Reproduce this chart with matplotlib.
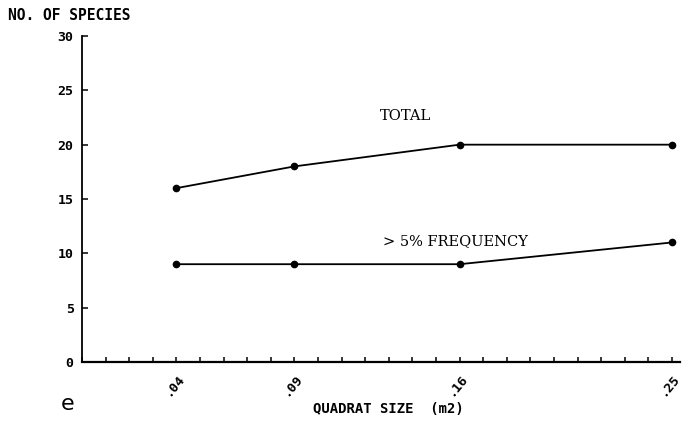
import matplotlib
matplotlib.use("Agg")
import matplotlib.pyplot as plt
from matplotlib.ticker import MultipleLocator, FixedLocator

quadrat_size = [0.04, 0.09, 0.16, 0.25]
size_labels = [".04", ".09", ".16", ".25"]
total_species = [16, 18, 20, 20]
frequent_species = [9, 9, 9, 11]

MONO = "DejaVu Sans Mono"
SERIF = "DejaVu Serif"

fig = plt.figure(figsize=(6.96, 4.42), dpi=100)
ax = fig.add_axes([82 / 696, 80 / 442, (680 - 82) / 696, (362 - 36) / 442])

ax.plot(quadrat_size, total_species, "-o", color="black", lw=1.3, ms=4.5)
ax.plot(quadrat_size, frequent_species, "-o", color="black", lw=1.3, ms=4.5)

ax.set_xlim(0, 0.2534)
ax.set_ylim(0, 30)

for side in ("top", "right"):
    ax.spines[side].set_visible(False)
ax.spines["left"].set_linewidth(1.3)
ax.spines["bottom"].set_linewidth(1.6)

ax.yaxis.set_major_locator(MultipleLocator(5))
ax.xaxis.set_major_locator(FixedLocator(quadrat_size))
ax.xaxis.set_minor_locator(MultipleLocator(0.01))
ax.set_xticklabels(size_labels, rotation=50, ha="right", va="top",
                   rotation_mode="anchor", fontfamily=MONO, fontweight="bold", fontsize=9.5)
ax.tick_params(axis="x", which="both", direction="in", length=3.5, width=1.1, pad=7)
ax.tick_params(axis="y", direction="in", length=4, width=1.1, pad=6)
for lbl in ax.get_yticklabels():
    lbl.set_fontfamily(MONO)
    lbl.set_fontweight("bold")
    lbl.set_fontsize(9.5)

ax.text(0.137, 22.6, "TOTAL", family=SERIF, fontsize=10.5, ha="center", va="center")
ax.text(0.1275, 11.1, "> 5% FREQUENCY", family=SERIF, fontsize=10.5, ha="left", va="center")

fig.text(8 / 696, 1 - 16 / 442, "NO. OF SPECIES", family=MONO, fontweight="bold",
         fontsize=10.5, ha="left", va="center")
fig.text(388 / 696, 1 - 409 / 442, "QUADRAT SIZE  (m2)", family=MONO, fontweight="bold",
         fontsize=10, ha="center", va="center")
fig.text(68 / 696, 1 - 404 / 442, "e", family="DejaVu Sans", fontsize=16,
         ha="center", va="center")

fig.savefig("out.png", dpi=100)
